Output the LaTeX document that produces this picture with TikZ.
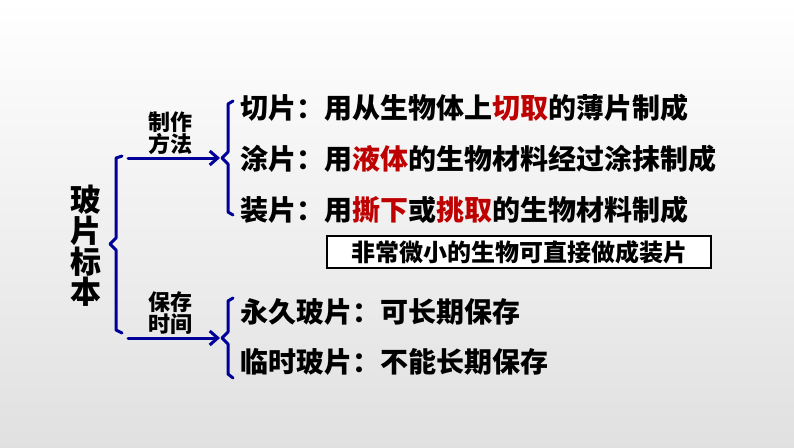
\documentclass[tikz,border=0pt]{standalone}
\usetikzlibrary{arrows.meta}
\usepackage{fontspec}
\setmainfont{Noto Sans CJK SC}
\begin{document}
\begin{tikzpicture}[x=1pt,y=-1pt,
  br/.style={draw=blue!60!black,line width=3pt,line cap=round,line join=round},
  arr/.style={br,-{Straight Barb[length=8pt,width=14pt]}},
  txt/.style={anchor=west,font=\fontsize{28}{30}\selectfont\bfseries,inner sep=0pt},
  lab/.style={font=\fontsize{22}{19}\selectfont\bfseries,align=center,inner sep=0pt}]
\shade[top color=white,bottom color=black!12] (0,0) rectangle (794,447);
\useasboundingbox (0,0) rectangle (794,447);
\def\rd#1{\textcolor{red!75!black}{#1}}
\node[font=\fontsize{31}{27}\selectfont\bfseries,align=center,inner sep=0pt] (root) at (86,246) {玻\\片\\标\\本};
% left brace
\draw[br] (122,156) -- (116,158) -- (116,238) -- (110,244) -- (116,250) -- (116,330) -- (122,333);
\coordinate (a1s) at (128,158); \coordinate (a1e) at (220,158);
\coordinate (a2s) at (128,338); \coordinate (a2e) at (220,338);
\draw[arr] (a1s) -- (a1e);
\draw[arr] (a2s) -- (a2e);
\node[lab] (l1) at (170,133) {制作\\方法};
\node[lab] (l2) at (170,313) {保存\\时间};
% right braces
\draw[br] (233,101) -- (228,104) -- (228,152) -- (222,158) -- (228,164) -- (228,212) -- (233,215);
\draw[br] (233,298) -- (228,301) -- (228,332) -- (222,338) -- (228,344) -- (228,374) -- (233,378);
\node[txt] (t1) at (240,108) {切片：用从生物体上\rd{切取}的薄片制成};
\node[txt] (t2) at (240,159) {涂片：用\rd{液体}的生物材料经过涂抹制成};
\node[txt] (t3) at (240,210) {装片：用\rd{撕下}或\rd{挑取}的生物材料制成};
\node[draw=black,line width=1.5pt,fill=white,minimum width=384pt,minimum height=32pt,inner sep=0pt,font=\fontsize{24}{26}\selectfont\bfseries] (bx) at (519,252) {非常微小的生物可直接做成装片};
\node[txt] (t4) at (240,312) {永久玻片：可长期保存};
\node[txt] (t5) at (240,362) {临时玻片：不能长期保存};
\end{tikzpicture}
\end{document}
